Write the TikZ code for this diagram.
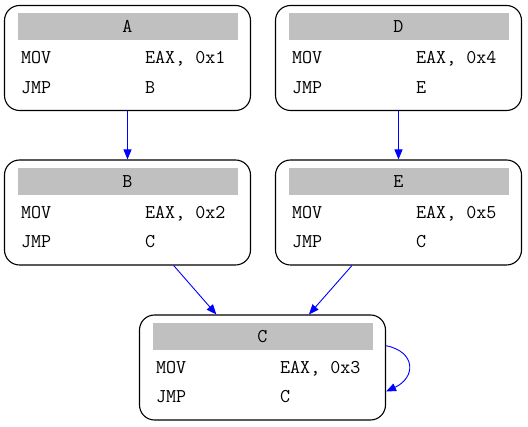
\documentclass[tikz,border=0pt]{standalone}
\usepackage{fontspec}
\usetikzlibrary{positioning}
\usetikzlibrary{calc}
\usetikzlibrary{arrows.meta}
\definecolor{headgray}{RGB}{192,192,192}
\tikzset{
	block/.style={
		draw, rounded corners=15pt, line width=1.1pt,
		minimum width=246pt, minimum height=105pt, inner sep=0pt
	},
	blockhead/.style={
		fill=headgray, minimum width=220pt, minimum height=27pt, inner sep=0pt, anchor=north
	},
	opcode/.style={
		anchor=base west, inner sep=0pt
	},
	flow/.style={
		blue, line width=0.9pt, -{Triangle[length=10pt,width=8pt]}
	}
}
% one basic block: name, x, y, mov operand, jmp target
\def\asmblock#1#2#3#4#5{%
	\node[block] (#1) at (#2,#3) {};
	\node[blockhead] (#1-head) at ($(#1.north)+(0,8)$) {#1};
	\node[opcode] (#1-mov) at ($(#1.west)+(17,6)$) {MOV};
	\node[opcode] (#1-movarg) at ($(#1.west)+(141,6)$) {#4};
	\node[opcode] (#1-jmp) at ($(#1.west)+(17,35.5)$) {JMP};
	\node[opcode] (#1-jmparg) at ($(#1.west)+(141,35.5)$) {#5};
}
\begin{document}
\begin{tikzpicture}[x=1pt, y=-1pt, every node/.style={font=\ttfamily\fontsize{19.5}{22}\selectfont}]
	\useasboundingbox (0,0) rectangle (528,427);

	\asmblock{A}{127.5}{58}{EAX, 0x1}{B}
	\asmblock{D}{398.5}{58}{EAX, 0x4}{E}
	\asmblock{B}{127.5}{212.5}{EAX, 0x2}{C}
	\asmblock{E}{398.5}{212.5}{EAX, 0x5}{C}
	\asmblock{C}{262.5}{367.5}{EAX, 0x3}{C}

	\draw[flow] (A) -- (B);
	\draw[flow] (D) -- (E);
	\draw[flow] (B) -- (C);
	\draw[flow] (E) -- (C);
	\draw[flow] (C.10) .. controls +(30,6) and +(30,-14) .. (C.-11);
\end{tikzpicture}
\end{document}
